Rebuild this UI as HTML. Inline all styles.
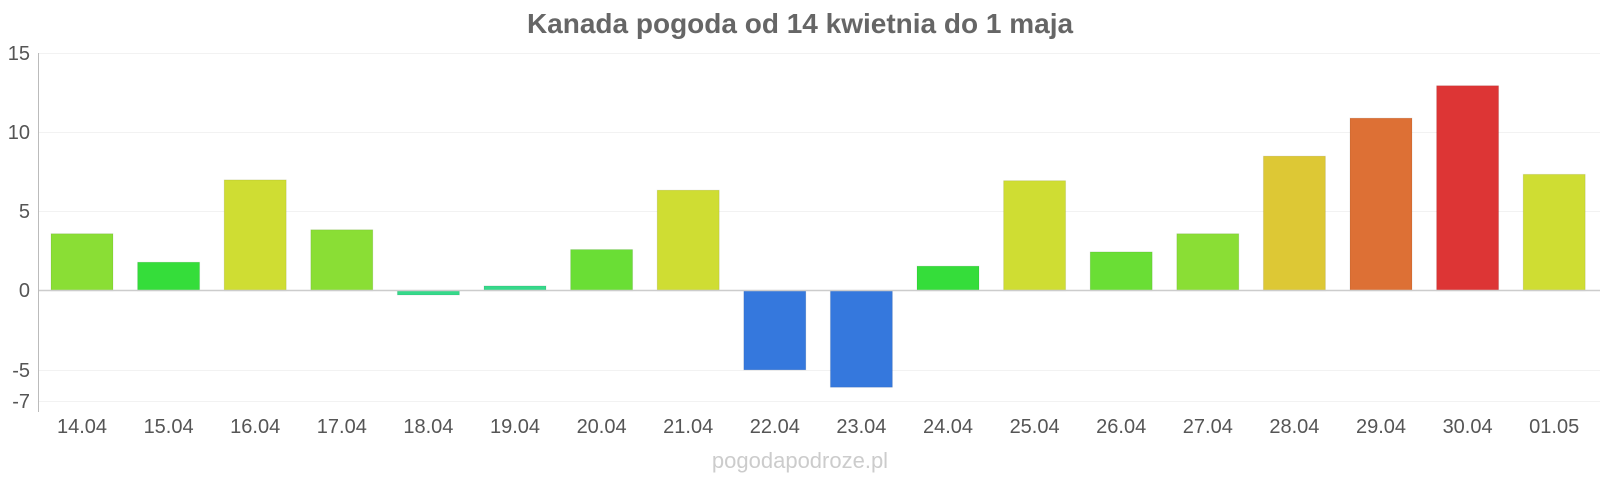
<!DOCTYPE html>
<html><head><meta charset="utf-8"><style>
html,body{margin:0;padding:0;background:#fff;}
svg{display:block;font-family:"Liberation Sans",sans-serif;}
</style></head><body>
<svg width="1600" height="480" xmlns="http://www.w3.org/2000/svg">
<text x="800" y="33" text-anchor="middle" font-size="28" font-weight="bold" fill="#666">Kanada pogoda od 14 kwietnia do 1 maja</text>
<g stroke="#f2f2f2" stroke-width="1">
<line x1="38" x2="1600" y1="53.5" y2="53.5"/>
<line x1="38" x2="1600" y1="132.5" y2="132.5"/>
<line x1="38" x2="1600" y1="211.5" y2="211.5"/>
<line x1="38" x2="1600" y1="370.5" y2="370.5"/>
<line x1="38" x2="1600" y1="401.5" y2="401.5"/>
</g>
<g font-size="20" fill="#555" text-anchor="end">
<text x="30" y="60">15</text>
<text x="30" y="139">10</text>
<text x="30" y="218">5</text>
<text x="30" y="297">0</text>
<text x="30" y="377">-5</text>
<text x="30" y="408">-7</text>
</g>
<g id="bars" stroke-width="1"></g>
<line x1="38" x2="1600" y1="290.5" y2="290.5" stroke="#ccc" stroke-width="1.5"/>
<line x1="38.5" x2="38.5" y1="53" y2="412" stroke="#bbb" stroke-width="1"/>
<g id="labels" font-size="20" fill="#555" text-anchor="middle"></g>
<text x="800" y="468" text-anchor="middle" font-size="22" fill="#ccc">pogodapodroze.pl</text>
<script>
var v=[3.6,1.8,7.0,3.85,-0.27,0.3,2.6,6.35,-5.0,-6.1,1.55,6.95,2.45,3.6,8.5,10.9,12.95,7.35];
var c=["#8ade35","#35dd3a","#cfdd33","#8ade35","#35d98a","#35d98a","#6ade35","#cfdd33","#3578dd","#3578dd","#35dd3a","#cfdd33","#6ade35","#8ade35","#ddc835","#dd7035","#dd3535","#cfdd33"];
var lab=["14.04","15.04","16.04","17.04","18.04","19.04","20.04","21.04","22.04","23.04","24.04","25.04","26.04","27.04","28.04","29.04","30.04","01.05"];
var ns="http://www.w3.org/2000/svg",b=document.getElementById("bars"),L=document.getElementById("labels");
var z=290.7,u=15.83;
for(var i=0;i<18;i++){var cx=82+i*86.6;var r=document.createElementNS(ns,"rect");
var y=v[i]>0?z-v[i]*u:z;var h=Math.abs(v[i])*u;
r.setAttribute("x",cx-31);r.setAttribute("width",62);r.setAttribute("y",y);r.setAttribute("height",h);
r.setAttribute("fill",c[i]);r.setAttribute("stroke","rgba(0,0,0,0.08)");b.appendChild(r);
var t=document.createElementNS(ns,"text");t.setAttribute("x",cx);t.setAttribute("y",433);t.textContent=lab[i];L.appendChild(t);}
</script>
</svg>
</body></html>
